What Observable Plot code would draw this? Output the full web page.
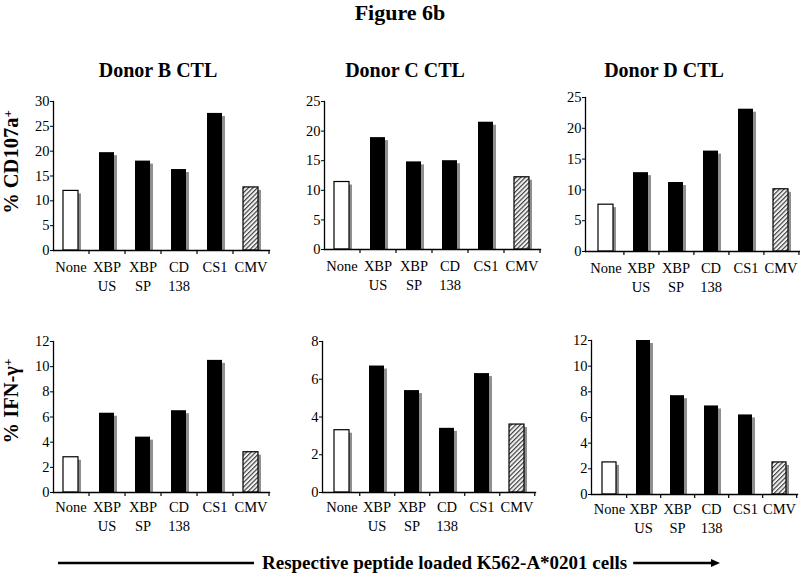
<!DOCTYPE html>
<html><head><meta charset="utf-8">
<script src="https://cdn.jsdelivr.net/npm/d3@7"></script>
<script src="https://cdn.jsdelivr.net/npm/@observablehq/plot@0.6"></script>
<style>
body{margin:0;background:#fff;}
#root{position:relative;width:800px;height:574px;overflow:hidden;background:#fff;font-family:"Liberation Serif","Times New Roman",serif;}
#root > svg{position:absolute;}
</style></head><body><div id="root"></div>
<svg width="0" height="0" style="position:absolute">
  <defs>
    <pattern id="hatch" patternUnits="userSpaceOnUse" width="3.2" height="3.2" patternTransform="rotate(45)">
      <rect width="3.2" height="3.2" fill="#f2f2f2"></rect>
      <line x1="0.6" y1="0" x2="0.6" y2="3.2" stroke="#333" stroke-width="1.1"></line>
    </pattern>
  </defs>
</svg>
<script>
// ---- data ----
const figureTitle = "Figure 6b";
const donors = ["Donor B CTL", "Donor C CTL", "Donor D CTL"];
const categories = ["None", "XBP US", "XBP SP", "CD 138", "CS1", "CMV"];
const cd107aB = [12.0, 19.7, 18.0, 16.3, 27.6, 12.7];
const cd107aC = [11.4, 18.9, 14.8, 15.0, 21.5, 12.2];
const cd107aD = [7.6, 12.8, 11.2, 16.3, 23.1, 10.1];
const ifngB = [2.8, 6.3, 4.4, 6.5, 10.5, 3.2];
const ifngC = [3.3, 6.7, 5.4, 3.4, 6.3, 3.6];
const ifngD = [2.5, 12.0, 7.7, 6.9, 6.2, 2.5];
const ticksCD107a = [[0, 5, 10, 15, 20, 25, 30], [0, 5, 10, 15, 20, 25], [0, 5, 10, 15, 20, 25]];
const ticksIFNg = [[0, 2, 4, 6, 8, 10, 12], [0, 2, 4, 6, 8], [0, 2, 4, 6, 8, 10, 12]];
const yLabelTop = "% CD107a";
const yLabelBottom = "% IFN-\u03b3";
const xCaption = "Respective peptide loaded K562-A*0201 cells";

// ---- layout ----
const FONT = '"Liberation Serif","Times New Roman",serif';
const root = document.getElementById("root");
const mL = 32, mR = 6, mT = 8, mB = 50;

const panels = [
  {values: cd107aB, ticks: ticksCD107a[0], g: {left: 53, right: 269, top: 101, bottom: 250}, pad: 8},
  {values: cd107aC, ticks: ticksCD107a[1], g: {left: 324, right: 540, top: 101, bottom: 249}, pad: 8},
  {values: cd107aD, ticks: ticksCD107a[2], g: {left: 585, right: 800, top: 97, bottom: 251}, pad: 8},
  {values: ifngB, ticks: ticksIFNg[0], g: {left: 53, right: 269, top: 341, bottom: 492}, pad: 6},
  {values: ifngC, ticks: ticksIFNg[1], g: {left: 322, right: 535, top: 341, bottom: 492}, pad: 6},
  {values: ifngD, ticks: ticksIFNg[2], g: {left: 591, right: 797, top: 340, bottom: 494}, pad: 6}
];

for (const {values, ticks, g, pad} of panels) {
  const data = categories.map((c, i) => ({cat: c, v: values[i]}));
  const w = g.right - g.left, h = g.bottom - g.top;
  const step = w / categories.length;
  const svg = Plot.plot({
    width: w + mL + mR,
    height: h + mT + mB,
    marginLeft: mL, marginRight: mR, marginTop: mT, marginBottom: mB,
    style: {fontFamily: FONT, fontSize: "14.5px", background: "transparent", color: "#000", overflow: "visible"},
    x: {domain: categories, paddingInner: 0.58, paddingOuter: 0.29, axis: null},
    y: {domain: [0, d3.max(ticks)], axis: null},
    marks: [
      Plot.barY(data, {x: "cat", y: "v", fill: "#8f8f8f", dx: 3, insetTop: 3}),
      Plot.barY(data.filter(d => d.cat === "None"), {x: "cat", y: "v", fill: "#fff", stroke: "#000", strokeWidth: 1.2}),
      Plot.barY(data.filter(d => d.cat !== "None" && d.cat !== "CMV"), {x: "cat", y: "v", fill: "#000"}),
      Plot.barY(data.filter(d => d.cat === "CMV"), {x: "cat", y: "v", fill: "url(#hatch)", stroke: "#000", strokeWidth: 1.2}),
      Plot.frame({anchor: "left", strokeWidth: 1.3}),
      Plot.frame({anchor: "bottom", strokeWidth: 1.3}),
      Plot.axisY({ticks, tickSize: 3, tickPadding: 1, fontSize: 14.5, tickFormat: d => d, label: null}),
      Plot.ruleX(categories, {x: d => d, y1: 0, y2: 0, insetBottom: -4, dx: step / 2, strokeWidth: 1.2}),
      Plot.axisX({tickSize: 0, tickPadding: pad, fontSize: 14.5, lineHeight: 1.3, tickFormat: d => d.replace(" ", "\n"), label: null})
    ]
  });
  svg.style.left = (g.left - mL) + "px";
  svg.style.top = (g.top - mT) + "px";
  root.appendChild(svg);
}

// ---- titles and annotations ----
const ov = d3.select(root).append("svg")
  .attr("width", 800).attr("height", 574)
  .style("left", "0px").style("top", "0px")
  .attr("font-family", FONT).attr("font-weight", "bold").attr("fill", "#000");

ov.append("text").attr("x", 400).attr("y", 20).attr("text-anchor", "middle")
  .attr("font-size", 22).text(figureTitle);

const donorX = [158, 405, 664];
donors.forEach((d, i) => {
  ov.append("text").attr("x", donorX[i]).attr("y", 77).attr("text-anchor", "middle")
    .attr("font-size", 20).text(d);
});

function yLabel(txt, cy) {
  const t = ov.append("text").attr("transform", `translate(18,${cy}) rotate(-90)`)
    .attr("text-anchor", "middle").attr("font-size", 20.5);
  t.append("tspan").text(txt);
  t.append("tspan").attr("dy", "-0.5em").attr("font-size", 13).text("+");
}
yLabel(yLabelTop, 162);
yLabel(yLabelBottom, 401);

const cap = ov.append("text").attr("x", 262).attr("y", 569).attr("font-size", 19).text(xCaption);
const capEnd = 262 + cap.node().getComputedTextLength();
ov.append("line").attr("x1", 58).attr("x2", 254).attr("y1", 563).attr("y2", 563)
  .attr("stroke", "#000").attr("stroke-width", 2.6);
ov.append("line").attr("x1", capEnd + 6).attr("x2", 712).attr("y1", 563).attr("y2", 563)
  .attr("stroke", "#000").attr("stroke-width", 2.6);
ov.append("path").attr("d", "M711,559 L720,563 L711,567 Z").attr("fill", "#000");
</script>
</body></html>
